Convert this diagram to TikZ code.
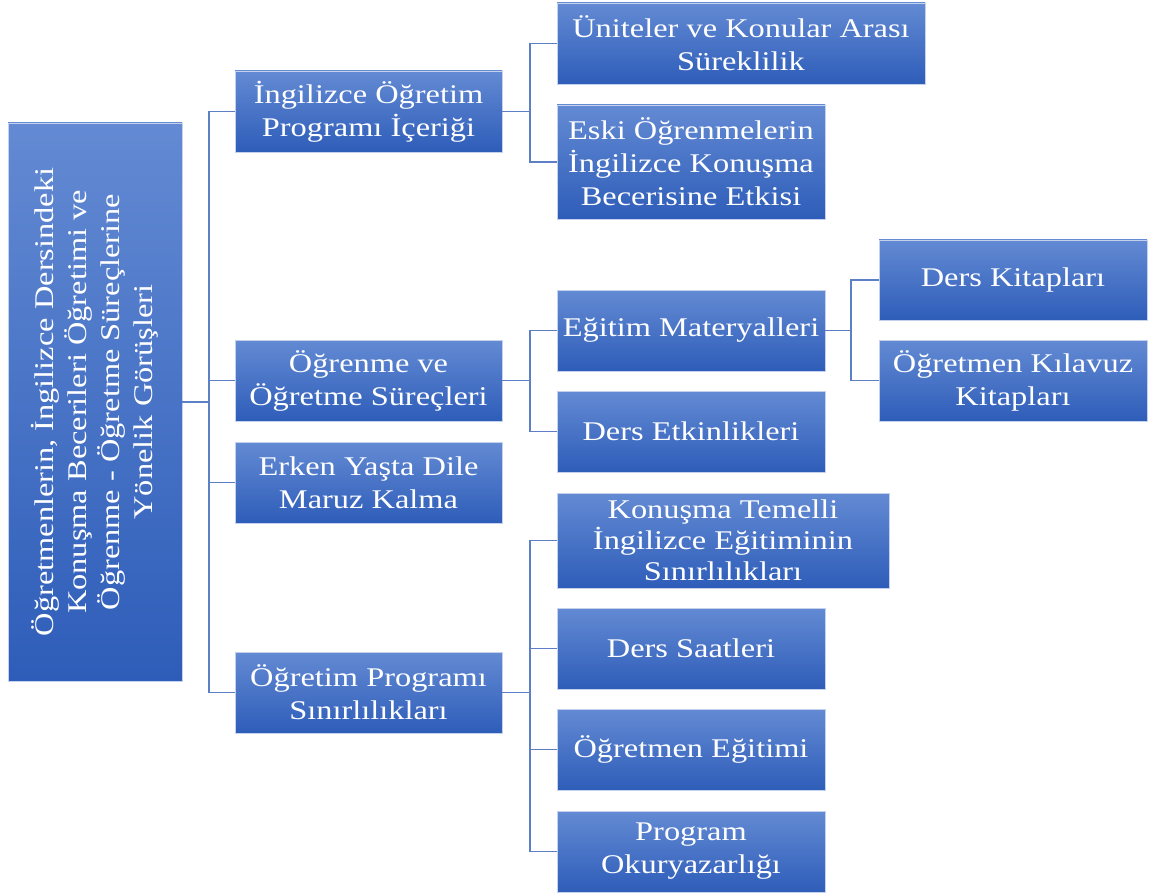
\documentclass[tikz,border=0pt]{standalone}
\usepackage{fontspec}
\setmainfont[FakeStretch=1.2]{Liberation Serif}
\usepackage{graphicx}
\usepackage{tikz}
\usetikzlibrary{positioning}
\definecolor{boxtop}{RGB}{99,138,211}
\definecolor{boxbot}{RGB}{46,93,185}
\definecolor{boxedge}{RGB}{196,210,238}
\definecolor{linkblue}{RGB}{92,127,197}
\tikzset{
  topicbox/.style={rectangle, draw=boxedge, line width=0.8pt,
                   top color=boxtop, bottom color=boxbot,
                   text=white, align=center, inner sep=0pt,
                   minimum width=267pt, minimum height=81pt,
                   font=\fontsize{27}{33}\selectfont},
  link/.style={draw=linkblue, line width=1.6pt},
}

\begin{document}
\begin{tikzpicture}[
    x=1pt,
    y=-1pt,
    rootbox/.style={topicbox, minimum width=174pt, minimum height=558pt},
    subbox/.style={topicbox, minimum width=268pt},
  ]
    \useasboundingbox (0,0) rectangle (1149,896);

    % Root (left): vertical title
    \node[rootbox] (root) at (95,402) {\rotatebox{90}{\begin{minipage}{540pt}\centering
      Öğretmenlerin, İngilizce Dersindeki\\Konuşma Becerileri Öğretimi ve\\
      Öğrenme - Öğretme Süreçlerine\\Yönelik Görüşleri\end{minipage}}};

    % Column 1: main themes
    \node[topicbox] (icerik)  at (368.5,111.5) {İngilizce Öğretim\\Programı İçeriği};
    \node[topicbox] (surec)   at (368.5,380.5) {Öğrenme ve\\Öğretme Süreçleri};
    \node[topicbox] (erken)   at (368.5,482.5) {Erken Yaşta Dile\\Maruz Kalma};
    \node[topicbox] (sinir)   at (368.5,692.5) {Öğretim Programı\\Sınırlılıkları};

    % Column 2: sub-themes
    \node[subbox, minimum width=368pt]  (sureklilik) at (741,43.5)  {Üniteler ve Konular Arası\\Süreklilik};
    \node[subbox, minimum height=114pt] (eski)       at (691,162)   {Eski Öğrenmelerin\\İngilizce Konuşma\\Becerisine Etkisi};
    \node[subbox]                       (materyal)   at (691,330.5) {Eğitim Materyalleri};
    \node[subbox]                       (etkinlik)   at (691,431.5) {Ders Etkinlikleri};
    \node[subbox, minimum width=332pt, minimum height=95pt,
          font=\fontsize{27}{31}\selectfont] (konusma) at (723,540.5) {Konuşma Temelli\\İngilizce Eğitiminin\\Sınırlılıkları};
    \node[subbox]                       (saat)       at (691,648.5) {Ders Saatleri};
    \node[subbox]                       (ogretmen)   at (691,749.5) {Öğretmen Eğitimi};
    \node[subbox]                       (okuryazar)  at (691,851.5) {Program\\Okuryazarlığı};

    % Column 3: materials
    \node[subbox, minimum height=80pt]  (kitap)      at (1013,280)  {Ders Kitapları};
    \node[subbox]                       (kilavuz)    at (1013,380.5) {Öğretmen Kılavuz\\Kitapları};

    % Bus points of the elbow connectors
    \coordinate (rootbus)     at (209,402);
    \coordinate (icerikbus)   at (530,111.5);
    \coordinate (surecbus)    at (530,380.5);
    \coordinate (sinirbus)    at (530,692.5);
    \coordinate (materyalbus) at (851,330.5);

    % Root -> column 1
    \draw[link] (root)    -- (rootbus);
    \draw[link] (rootbus) |- (icerik);
    \draw[link] (rootbus) |- (surec);
    \draw[link] (rootbus) |- (erken);
    \draw[link] (rootbus) |- (sinir);

    % Column 1 -> column 2
    \draw[link] (icerik)    -- (icerikbus);
    \draw[link] (icerikbus) |- (sureklilik);
    \draw[link] (icerikbus) |- (eski);
    \draw[link] (surec)     -- (surecbus);
    \draw[link] (surecbus)  |- (materyal);
    \draw[link] (surecbus)  |- (etkinlik);
    \draw[link] (sinir)     -- (sinirbus);
    \draw[link] (sinirbus)  |- (konusma);
    \draw[link] (sinirbus)  |- (saat);
    \draw[link] (sinirbus)  |- (ogretmen);
    \draw[link] (sinirbus)  |- (okuryazar);

    % Column 2 -> column 3
    \draw[link] (materyal)    -- (materyalbus);
    \draw[link] (materyalbus) |- (kitap);
    \draw[link] (materyalbus) |- (kilavuz);

  \end{tikzpicture}
\end{document}
